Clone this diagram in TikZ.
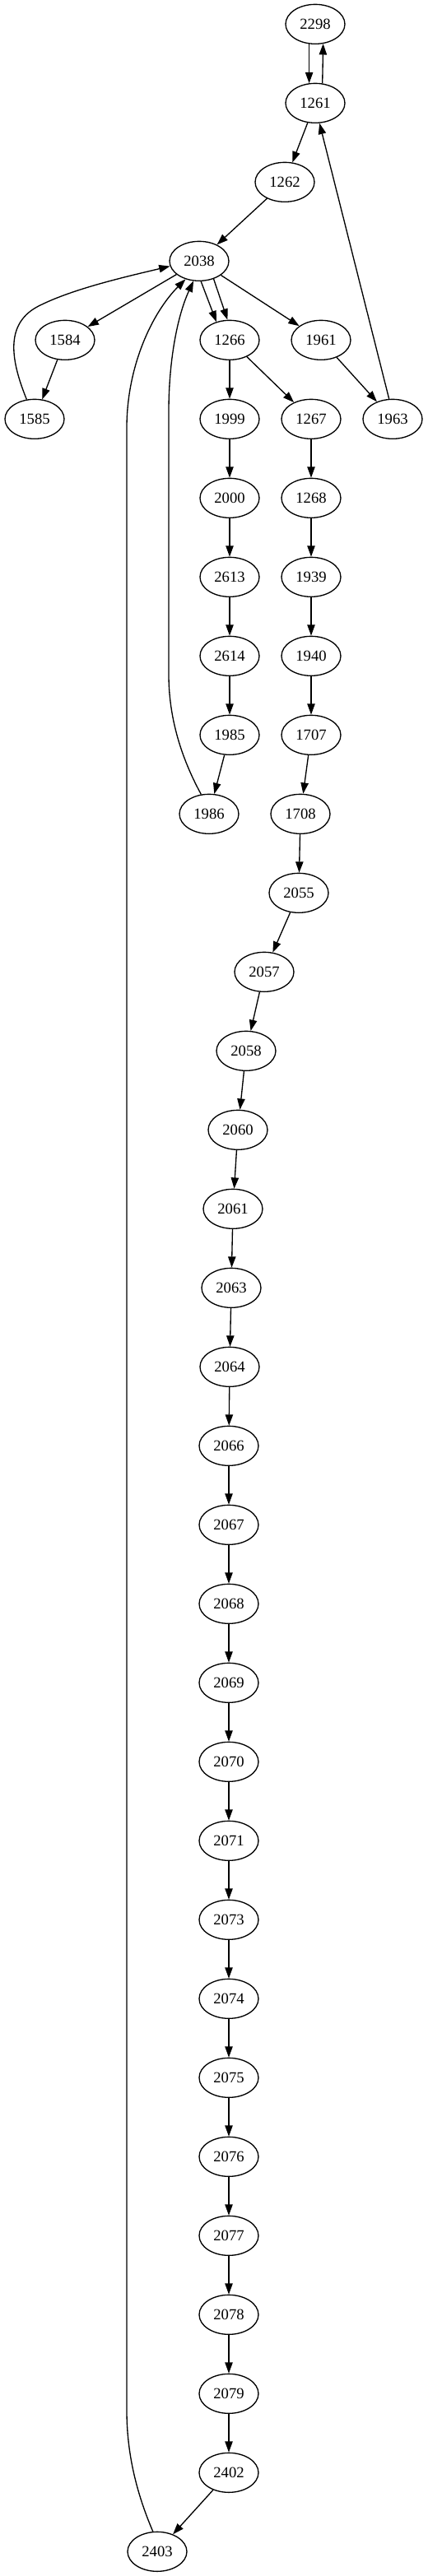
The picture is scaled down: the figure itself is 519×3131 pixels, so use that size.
\documentclass[tikz,border=0pt]{standalone}
\usepackage{fontspec}
\setmainfont{Liberation Serif}
\usetikzlibrary{shapes.geometric,arrows.meta}
\begin{document}
\begin{tikzpicture}[x=0.75pt,y=-0.75pt,
  nd/.style={draw,ellipse,line width=1pt,minimum width=54pt,minimum height=36pt,inner sep=0pt,font=\fontsize{14pt}{16pt}\selectfont},
  ed/.style={line width=1pt,-{Triangle[length=10pt,width=7pt]}}]
\useasboundingbox (0,0) rectangle (519,3131);
\def\ry#1{{29.33+96*#1}}
\node[nd] (n2298) at (383,\ry{0}) {2298};
\node[nd] (n1261) at (383,\ry{1}) {1261};
\node[nd] (n1262) at (346,\ry{2}) {1262};
\node[nd] (n2038) at (242,\ry{3}) {2038};
\node[nd] (n1584) at (79,\ry{4}) {1584};
\node[nd] (n1266) at (279,\ry{4}) {1266};
\node[nd] (n1961) at (390,\ry{4}) {1961};
\node[nd] (n1585) at (42,\ry{5}) {1585};
\node[nd] (n1999) at (279,\ry{5}) {1999};
\node[nd] (n1267) at (378,\ry{5}) {1267};
\node[nd] (n1963) at (477,\ry{5}) {1963};
\node[nd] (n2000) at (279,\ry{6}) {2000};
\node[nd] (n1268) at (378,\ry{6}) {1268};
\node[nd] (n2613) at (279,\ry{7}) {2613};
\node[nd] (n1939) at (378,\ry{7}) {1939};
\node[nd] (n2614) at (279,\ry{8}) {2614};
\node[nd] (n1940) at (378,\ry{8}) {1940};
\node[nd] (n1985) at (279,\ry{9}) {1985};
\node[nd] (n1707) at (378,\ry{9}) {1707};
\node[nd] (n1986) at (254,\ry{10}) {1986};
\node[nd] (n1708) at (365,\ry{10}) {1708};
\node[nd] (n2055) at (363,\ry{11}) {2055};
\node[nd] (n2057) at (321,\ry{12}) {2057};
\node[nd] (n2058) at (299,\ry{13}) {2058};
\node[nd] (n2060) at (289,\ry{14}) {2060};
\node[nd] (n2061) at (283,\ry{15}) {2061};
\node[nd] (n2063) at (281,\ry{16}) {2063};
\node[nd] (n2064) at (279,\ry{17}) {2064};
\node[nd] (n2066) at (278,\ry{18}) {2066};
\node[nd] (n2067) at (278,\ry{19}) {2067};
\node[nd] (n2068) at (278,\ry{20}) {2068};
\node[nd] (n2069) at (278,\ry{21}) {2069};
\node[nd] (n2070) at (278,\ry{22}) {2070};
\node[nd] (n2071) at (278,\ry{23}) {2071};
\node[nd] (n2073) at (278,\ry{24}) {2073};
\node[nd] (n2074) at (278,\ry{25}) {2074};
\node[nd] (n2075) at (278,\ry{26}) {2075};
\node[nd] (n2076) at (278,\ry{27}) {2076};
\node[nd] (n2077) at (278,\ry{28}) {2077};
\node[nd] (n2078) at (278,\ry{29}) {2078};
\node[nd] (n2079) at (278,\ry{30}) {2079};
\node[nd] (n2402) at (278,\ry{31}) {2402};
\node[nd] (n2403) at (191,\ry{32}) {2403};
% top cycle
\draw[ed] (n2298.-107) -- (n1261.107);
\draw[ed] (n1261.70) -- (n2298.-68);
\draw[ed] (n1261) -- (n1262);
\draw[ed] (n1963.100) -- (n1261.-78);
\draw[ed] (n1262) -- (n2038);
\draw[ed] (n2038) -- (n1584);
\draw[ed] (n2038.-85) -- (n1266.126);
\draw[ed] (n2038.-51) -- (n1266.96);
\draw[ed] (n2038) -- (n1961);
\draw[ed] (n1584) -- (n1585);
\draw[ed] (n1585.112) .. controls (14,440) and (5,395) .. (45,373) .. controls (85,352) and (150,337) .. (n2038.190);
\draw[ed] (n1266) -- (n1999);
\draw[ed] (n1266) -- (n1267);
\draw[ed] (n1961) -- (n1963);
% left chain
\draw[ed] (n1999) -- (n2000);
\draw[ed] (n2000) -- (n2613);
\draw[ed] (n2613) -- (n2614);
\draw[ed] (n2614) -- (n1985);
\draw[ed] (n1985) -- (n1986);
\draw[ed] (n1986.112) .. controls (225,930) and (205,880) .. (205,820) -- (205,500) .. controls (205,440) and (215,385) .. (n2038.-106);
% right chain
\draw[ed] (n1267) -- (n1268);
\draw[ed] (n1268) -- (n1939);
\draw[ed] (n1939) -- (n1940);
\draw[ed] (n1940) -- (n1707);
\draw[ed] (n1707) -- (n1708);
\draw[ed] (n1708) -- (n2055);
\draw[ed] (n2055) -- (n2057);
\draw[ed] (n2057) -- (n2058);
\draw[ed] (n2058) -- (n2060);
\draw[ed] (n2060) -- (n2061);
\draw[ed] (n2061) -- (n2063);
\draw[ed] (n2063) -- (n2064);
\draw[ed] (n2064) -- (n2066);
\draw[ed] (n2066) -- (n2067);
\draw[ed] (n2067) -- (n2068);
\draw[ed] (n2068) -- (n2069);
\draw[ed] (n2069) -- (n2070);
\draw[ed] (n2070) -- (n2071);
\draw[ed] (n2071) -- (n2073);
\draw[ed] (n2073) -- (n2074);
\draw[ed] (n2074) -- (n2075);
\draw[ed] (n2075) -- (n2076);
\draw[ed] (n2076) -- (n2077);
\draw[ed] (n2077) -- (n2078);
\draw[ed] (n2078) -- (n2079);
\draw[ed] (n2079) -- (n2402);
\draw[ed] (n2402) -- (n2403);
\draw[ed] (n2403.102) .. controls (170,3040) and (154,2990) .. (154,2930) -- (154,520) .. controls (154,445) and (185,380) .. (n2038.-127);
\end{tikzpicture}
\end{document}
